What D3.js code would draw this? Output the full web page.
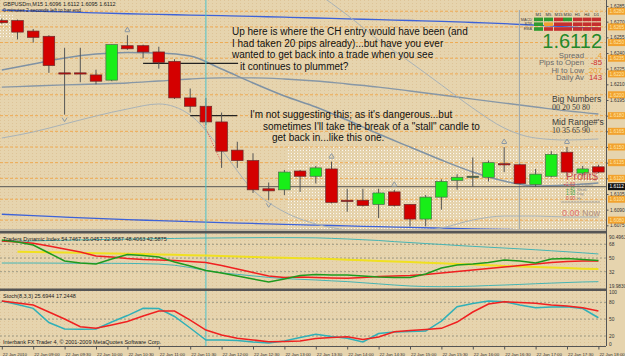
<!DOCTYPE html>
<html><head><meta charset="utf-8">
<script src="https://cdn.jsdelivr.net/npm/d3@7"></script>
<style>
body{margin:0;background:#e6d4ae;}
svg{display:block;font-family:Arial,"Liberation Sans",sans-serif;}
</style></head>
<body><svg id="c" width="625" height="356"></svg>
<script>
// ---------------- DATA ----------------
const timeLabels = ["22 Jan 2010","22 Jan 09:00","22 Jan 09:30","22 Jan 10:00","22 Jan 10:30","22 Jan 11:00","22 Jan 11:30","22 Jan 12:00","22 Jan 12:30","22 Jan 13:00","22 Jan 13:30","22 Jan 14:00","22 Jan 14:30","22 Jan 15:00","22 Jan 15:30","22 Jan 16:00","22 Jan 16:30","22 Jan 17:00","22 Jan 17:30","22 Jan 18:00"];
const labelBars = [0,2,4,6,8,10,12,14,16,18,20,22,24,26,28,30,32,34,36,38];

const open  = [1.6271,1.6271,1.6261,1.6256,1.6221,1.6221,1.6219,1.6214,1.6247,1.6247,1.6241,1.6232,1.6197,1.6189,1.6174,1.6147,1.6137,1.6110,1.6109,1.6127,1.6122,1.6129,1.6099,1.6099,1.6095,1.6107,1.6095,1.6081,1.6102,1.6118,1.6122,1.6121,1.6134,1.6133,1.6114,1.6122,1.6145,1.6125,1.6131];
const high  = [1.6273,1.6272,1.6263,1.6257,1.6245,1.6245,1.6224,1.6248,1.6257,1.6248,1.6246,1.6234,1.6206,1.6197,1.6183,1.6155,1.6144,1.6116,1.6128,1.6128,1.6132,1.6136,1.6110,1.6110,1.6110,1.6109,1.6095,1.6104,1.6119,1.6124,1.6140,1.6137,1.6150,1.6134,1.6129,1.6146,1.6150,1.6132,1.6133];
const low   = [1.6268,1.6253,1.6250,1.6221,1.6181,1.6212,1.6210,1.6213,1.6243,1.6235,1.6225,1.6196,1.6183,1.6171,1.6130,1.6130,1.6106,1.6099,1.6104,1.6107,1.6115,1.6096,1.6088,1.6093,1.6082,1.6093,1.6074,1.6074,1.6090,1.6109,1.6112,1.6117,1.6126,1.6114,1.6112,1.6121,1.6122,1.6122,1.6125];
const close = [1.6269,1.6260,1.6255,1.6228,1.6220,1.6220,1.6213,1.6248,1.6244,1.6241,1.6231,1.6197,1.6189,1.6174,1.6146,1.6137,1.6109,1.6108,1.6126,1.6122,1.6130,1.6097,1.6098,1.6094,1.6106,1.6094,1.6081,1.6102,1.6117,1.6121,1.6122,1.6135,1.6133,1.6115,1.6124,1.6143,1.6126,1.6129,1.6126];

// moving-average / band lines, one value per even bar (0,2,...,38)
const maBars   = [0,2,4,6,8,10,12,14,16,18,20,22,24,26,28,30,32,34,36,38];
const blueTop  = [1.62811,1.62802,1.62793,1.62784,1.62776,1.62770,1.62763,1.62757,1.62750,1.62743,1.62735,1.62727,1.62719,1.62711,1.62703,1.62692,1.62681,1.62666,1.62651,1.62637];
const blueLow  = [1.60856,1.60842,1.60829,1.60817,1.60805,1.60795,1.60785,1.60775,1.60768,1.60760,1.60752,1.60745,1.60737,1.60730,1.60723,1.60717,1.60712,1.60706,1.60702,1.60699];
const maMid    = [1.62237,1.62295,1.62352,1.62390,1.62405,1.62400,1.62371,1.62247,1.62113,1.61988,1.61883,1.61758,1.61624,1.61500,1.61375,1.61261,1.61174,1.61127,1.61136,1.61155];
const maSlow   = [1.62074,1.62084,1.62094,1.62103,1.62113,1.62132,1.62151,1.62161,1.62161,1.62151,1.62132,1.62103,1.62074,1.62036,1.61998,1.61959,1.61921,1.61883,1.61845,1.61816];
const bandUp   = [null,null,null,null,null,null,null,null,null,null,1.62984,1.62764,1.62524,1.62314,1.62094,1.61873,1.61682,1.61586,1.61567,1.61577];
const bandLow  = [1.61586,1.61644,1.61720,1.61797,1.61864,1.61912,1.61806,1.61471,1.61088,1.60878,1.60763,1.60706,1.60686,1.60686,1.60724,1.60801,1.60839,1.60839,1.60830,1.60830];

const levelPrices = [1.6280,1.6265,1.6250,1.6235,1.6220,1.6200,1.6180,1.6165,1.6150,1.6135,1.6120,1.6100,1.6080];
const axisPrices  = [1.6285,1.6270,1.6255,1.6240,1.6225,1.6210,1.6195,1.6180,1.6165,1.6150,1.6135,1.6120,1.6105,1.6090,1.6075];
const bidPrice = 1.6112;
const upFractals = [8,21,25,32,36];
const downFractals = [4,17];

// Traders Dynamic Index (per bar)
const tdiUp  = [71.5,72,72.5,73,73.4,73.8,74.2,74.5,74.8,75.1,75.4,75.7,76,76.2,76.4,76.6,76.7,76.8,76.8,76.7,76.5,75.8,75,74,73,71.5,70.3,69,67.8,66.5,65.3,64.2,63.1,62,60.8,59.5,58.2,56.8,55.3];
const tdiLow = [43.4,43.4,43.4,43.3,43.2,43.1,43,43,42.9,42.6,42,40.5,37.5,33.5,30.5,28.5,26.5,24.5,23,22,21.1,20,19,17.5,16,14.5,13.2,12.5,12.3,12.5,13,13.8,14.5,15.3,16.2,17,17.8,18.5,18.9];
const tdiMid = [null,58.3,58.0,57.6,57.2,56.8,56.4,56.0,55.6,55.2,54.7,54.2,53.7,53.2,52.6,52.0,51.4,50.8,50.3,49.8,49.4,48.6,47.8,47.0,46.2,45.4,44.6,43.8,43.0,42.2,41.3,40.4,39.5,38.8,38.1,37.4,36.7,36.0,35.5];
const tdiRsi = [73.7,71.0,67.1,56.6,46.1,43.4,42.1,48.7,54.6,53.3,51.3,44.7,39.5,33.6,30.3,26.3,22.4,18.4,22.4,27.0,28.3,27.7,27.7,26.3,25.0,24.4,24.4,29.0,36.9,40.8,42.1,44.1,47.4,46.1,43.4,48.7,49.3,48.0,46.7];
const tdiSig = [72.3,71.0,69.3,65.8,61.8,57.9,52.6,51.3,49.3,48.0,47.4,46.7,45.4,44.1,40.1,35.5,30.9,26.3,24.4,25.0,24.4,23.7,23.3,24.4,25.7,26.3,27.0,28.3,30.3,32.3,34.2,36.2,38.2,40.1,42.1,44.1,45.4,46.1,46.1];

// Stochastic (per bar)
const stochK = [82.3,76.0,69.3,44,32.4,31.9,32.4,44.9,56.4,69.3,68.9,54.7,34.2,12.8,12.8,11.9,9.3,7.5,11.0,17.3,23,19,15.8,9.3,24.4,27.1,28,28.8,46.6,72.1,77.8,82.3,81,75.1,70.3,71.6,72.1,68.9,52.5];
const stochD = [82.3,78.7,75.1,62.7,50.2,36.5,33.6,39.5,45.8,55.5,64.4,64.4,48.4,30.6,21.7,15.8,12.8,9.8,10.1,11,15.5,17.3,18.7,13.7,18.2,27.6,29.7,31.5,33.6,44.9,62.7,76.9,81,79.6,78.2,75.1,73.3,70.3,64.4];

const tfNames = ["M1","M5","M15","M30","H1","H4","D1"];
const rowNames = ["MACD","STR","EMA"];
const signalRows = [["g","g","r","g","r","r","r"],["g","o","r","r","r","r","r"],["g","r","r","r","r","r","r"]];

// ---------------- DRAW ----------------
const svg = d3.select("#c");
const X1 = 606;
const xB = d3.scaleLinear().domain([0,38]).range([1.8,598.4]);
const yP = d3.scaleLinear().domain([1.6285,1.6195]).range([6,100]);
const yT = d3.scaleLinear().domain([50,68]).range([258,244.3]);
const yS = d3.scaleLinear().domain([0,100]).range([347.2,291.1]);

const defs = svg.append("defs");
function clip(id,x,y,w,h){defs.append("clipPath").attr("id",id).append("rect").attr("x",x).attr("y",y).attr("width",w).attr("height",h);}
clip("cm",0,0,X1,229); clip("ct",0,234,X1,54.5); clip("cs",0,291,X1,55);
const pat = defs.append("pattern").attr("id","wd").attr("width",3).attr("height",3).attr("patternUnits","userSpaceOnUse");
pat.append("rect").attr("width",1).attr("height",1).attr("fill","#ffffff");
const pat2 = defs.append("pattern").attr("id","od").attr("width",4).attr("height",3).attr("patternUnits","userSpaceOnUse");
pat2.append("rect").attr("width",1).attr("height",1).attr("fill","#d9b98a");

svg.append("rect").attr("width",625).attr("height",356).attr("fill","#e6d4ae");
svg.append("rect").attr("width",X1).attr("height",346).attr("fill","url(#od)").attr("opacity",0.6);

const main = svg.append("g").attr("clip-path","url(#cm)");
main.append("rect").attr("x",288).attr("y",146).attr("width",X1-288).attr("height",84).attr("fill","url(#wd)").attr("opacity",0.85);
main.append("rect").attr("x",0).attr("y",13).attr("width",14).attr("height",24).attr("fill","url(#wd)").attr("opacity",0.85);

// level lines
main.selectAll(".lvl").data(levelPrices).join("line")
  .attr("x1",0).attr("x2",X1).attr("y1",d=>yP(d)).attr("y2",d=>yP(d))
  .attr("stroke","#f0a64a").attr("stroke-width",1).attr("stroke-dasharray","3,2").attr("opacity",0.9);

// lines
function lineP(arr,bars){return d3.line().defined(d=>d!=null).x((d,i)=>xB(bars[i])).y(d=>yP(d)).curve(d3.curveMonotoneX)(arr);}
main.append("path").attr("d",lineP(blueTop,maBars)).attr("fill","none").attr("stroke","#3d62d8").attr("stroke-width",1.3);
main.append("path").attr("d",lineP(blueLow,maBars)).attr("fill","none").attr("stroke","#3d62d8").attr("stroke-width",1.3);
main.append("path").attr("d",lineP(maSlow,maBars)).attr("fill","none").attr("stroke","#8797a6").attr("stroke-width",1.3);
main.append("path").attr("d",lineP(maMid,maBars)).attr("fill","none").attr("stroke","#7f92a4").attr("stroke-width",1.5);
main.append("path").attr("d",lineP(bandUp,maBars)).attr("fill","none").attr("stroke","#a9b3b8").attr("stroke-width",1);
main.append("path").attr("d",lineP(bandLow,maBars)).attr("fill","none").attr("stroke","#a9b3b8").attr("stroke-width",1);

// crosshair + vertical
svg.append("line").attr("x1",xB(13)).attr("x2",xB(13)).attr("y1",0).attr("y2",346).attr("stroke","#4cc3cc").attr("stroke-width",1);
main.append("line").attr("x1",xB(33)-0.5).attr("x2",xB(33)-0.5).attr("y1",10).attr("y2",229).attr("stroke","#9aa6ad").attr("stroke-width",1);

// bid line
main.append("line").attr("x1",0).attr("x2",X1).attr("y1",yP(bidPrice)).attr("y2",yP(bidPrice)).attr("stroke","#555").attr("stroke-width",1);

// user trend lines
main.append("line").attr("x1",xB(9)).attr("x2",xB(15.05)).attr("y1",yP(1.6230)).attr("y2",yP(1.6230)).attr("stroke","#222").attr("stroke-width",1.2);
main.append("line").attr("x1",xB(12)).attr("x2",xB(15)).attr("y1",yP(1.6180)).attr("y2",yP(1.6180)).attr("stroke","#222").attr("stroke-width",1.2);
main.append("line").attr("x1",xB(12.6)).attr("x2",xB(14)).attr("y1",yP(1.6180)).attr("y2",yP(1.6135)).attr("stroke","#e05050").attr("stroke-width",1).attr("stroke-dasharray","1,1.5");

// candles
const idx = d3.range(open.length);
const cg = main.append("g");
cg.selectAll(".wick").data(idx).join("line")
  .attr("x1",i=>xB(i)).attr("x2",i=>xB(i)).attr("y1",i=>yP(high[i])).attr("y2",i=>yP(low[i]))
  .attr("stroke","#555").attr("stroke-width",1);
cg.selectAll(".body").data(idx).join("rect")
  .attr("x",i=>xB(i)-5.8).attr("width",11.6)
  .attr("y",i=>Math.min(yP(open[i]),yP(close[i])))
  .attr("height",i=>Math.max(1.2,Math.abs(yP(open[i])-yP(close[i]))))
  .attr("fill",i=>close[i]>open[i]?"#18ee18":(close[i]<open[i]?"#d40000":"#333"))
  .attr("stroke",i=>close[i]>=open[i]?"#4c6a4c":"#6b2a2a").attr("stroke-width",0.7);

// fractals
const fr = main.append("g").attr("stroke","#8a98a6").attr("fill","none").attr("stroke-width",1);
upFractals.forEach(i=>{const x=xB(i),y=yP(high[i])-6;fr.append("path").attr("d",`M${x-2.5},${y+2} L${x},${y-2} L${x+2.5},${y+2} M${x-2.5},${y+2.5} H${x+2.5}`);});
downFractals.forEach(i=>{const x=xB(i),y=yP(low[i])+5;fr.append("path").attr("d",`M${x-2.5},${y-2} L${x},${y+2} L${x+2.5},${y-2}`);});

// annotations
const ann = svg.append("g").attr("font-size","10px").attr("fill","#111");
[["Up here is where the CH entry would have been (and",232,35],["I had taken 20 pips already)...but have you ever",232,46.5],["wanted to get back into a trade when you see",232,58],["it continues to plummet?",240,69.5],
 ["I'm not suggesting this; as it's dangerous...but",250,118],["sometimes I'll take the break of a \"stall\" candle to",263,129.5],["get back in...like this one.",272,141]]
 .forEach(t=>ann.append("text").attr("x",t[1]).attr("y",t[2]).text(t[0]));

// title
svg.append("text").attr("x",3).attr("y",6).attr("font-size","5.5px").attr("fill","#222").text("GBPUSDm,M15  1.6096 1.6112 1.6095 1.6112");
svg.append("text").attr("x",3).attr("y",11.5).attr("font-size","5px").attr("fill","#223").text("0 minutes 2 seconds left to bar end");

// info panel
const cx = [538.5,548.5,558.5,567.5,577.5,587,596.5];
const colr = {g:"#2f9a2f",r:"#c52e2e",o:"#f0a030"};
tfNames.forEach((t,j)=>svg.append("text").attr("x",cx[j]).attr("y",15.5).attr("text-anchor","middle").attr("font-size","4.2px").attr("fill","#333").text(t));
signalRows.forEach((row,r)=>{
  svg.append("text").attr("x",532).attr("y",20.6+r*4.8).attr("text-anchor","end").attr("font-size","3.8px").attr("fill","#444").text(rowNames[r]);
  row.forEach((c,j)=>svg.append("rect").attr("x",cx[j]-4.5).attr("y",17.6+r*4.8).attr("width",9).attr("height",3.6).attr("fill",colr[c]));
});
svg.append("text").attr("x",602).attr("y",47.5).attr("text-anchor","end").attr("font-size","20px").attr("fill","#23892a").text("1.6112");
const info=[["Spread","4","#f0a030",57.5],["Pips to Open","-85","#d03030",65],["Hi to Low","207","#f0a030",72.5],["Daily Av","143","#d03030",80]];
info.forEach(d=>{
  svg.append("text").attr("x",584).attr("y",d[3]).attr("text-anchor","end").attr("font-size","7.8px").attr("fill","#6a6a6a").text(d[0]);
  svg.append("text").attr("x",602).attr("y",d[3]).attr("text-anchor","end").attr("font-size","7.8px").attr("fill",d[2]).text(d[1]);
});
svg.append("text").attr("x",552).attr("y",102).attr("font-size","8.5px").attr("fill","#3a3a3a").text("Big Numbers");
svg.append("text").attr("x",552).attr("y",110).attr("font-size","8px").attr("font-family","'Liberation Serif',serif").attr("fill","#3a3a3a").text("00 20 50 80");
svg.append("text").attr("x",552).attr("y",124.5).attr("font-size","8.5px").attr("fill","#3a3a3a").text("Mid Range#'s");
svg.append("text").attr("x",552).attr("y",132.5).attr("font-size","8px").attr("font-family","'Liberation Serif',serif").attr("fill","#3a3a3a").text("10 35 65 90");

svg.append("text").attr("x",566).attr("y",180).attr("font-size","11px").attr("fill","#c65050").text("Profit$");
[["+1.63","#d04040","at 1.6095",186],["+.41","#3c9c3c","Week",190.7],["1.93","#3c9c3c","Day",195.3],["0.00","#d04040","Hr",200]].forEach(d=>{
  svg.append("text").attr("x",575).attr("y",d[3]).attr("text-anchor","end").attr("font-size","4.6px").attr("fill",d[1]).text(d[0]);
  svg.append("text").attr("x",577).attr("y",d[3]).attr("font-size","3.8px").attr("fill","#8a8a8a").text(d[2]);
});
svg.append("line").attr("x1",561).attr("x2",600).attr("y1",202).attr("y2",202).attr("stroke","#8a8a8a").attr("stroke-width",0.7);
svg.append("text").attr("x",562).attr("y",216).attr("font-size","9px").attr("fill","#e07070").text("0.00");
svg.append("text").attr("x",582).attr("y",216).attr("font-size","9px").attr("fill","#b09080").text("Now");

// right price axis
svg.append("line").attr("x1",X1+0.5).attr("x2",X1+0.5).attr("y1",0).attr("y2",346).attr("stroke","#555");
const ax = svg.append("g").attr("transform",`translate(${X1+0.5},0)`).call(d3.axisRight(yP).tickValues(axisPrices).tickFormat(d3.format(".4f")).tickSize(2).tickSizeOuter(0));
ax.select(".domain").remove();
ax.selectAll("text").attr("font-size","4.8px").attr("fill","#333").attr("x",3.5);
ax.selectAll("line").attr("stroke","#555");
const lg = svg.append("g");
levelPrices.forEach(p=>{
  lg.append("rect").attr("x",X1+2).attr("y",yP(p)-3.5).attr("width",17).attr("height",7).attr("fill","#f2a22e");
  lg.append("text").attr("x",X1+3.5).attr("y",yP(p)+1.8).attr("font-size","4.8px").attr("fill","#ffe6a8").text(p.toFixed(4));
});
lg.append("rect").attr("x",X1+2).attr("y",yP(bidPrice)-3.5).attr("width",17).attr("height",7).attr("fill","#111");
lg.append("text").attr("x",X1+3.5).attr("y",yP(bidPrice)+1.8).attr("font-size","4.8px").attr("fill","#fff").text(bidPrice.toFixed(4));

// panel separators
svg.append("rect").attr("x",0).attr("y",229.5).attr("width",X1).attr("height",1).attr("fill","#9a9a9a");
svg.append("rect").attr("x",0).attr("y",231).attr("width",X1).attr("height",2.5).attr("fill","#555");
svg.append("rect").attr("x",0).attr("y",288.5).attr("width",X1).attr("height",2.5).attr("fill","#555");
svg.append("line").attr("x1",0).attr("x2",X1).attr("y1",346.5).attr("y2",346.5).attr("stroke","#555");

// TDI panel
const tg = svg.append("g").attr("clip-path","url(#ct)");
[68,50,32].forEach(v=>tg.append("line").attr("x1",0).attr("x2",X1).attr("y1",yT(v)).attr("y2",yT(v)).attr("stroke","#8a8a7a").attr("stroke-dasharray","2,2").attr("stroke-width",0.8));
function lineT(arr){return d3.line().defined(d=>d!=null).x((d,i)=>xB(i)).y(d=>yT(d))(arr);}
tg.append("path").attr("d",lineT(tdiUp)).attr("fill","none").attr("stroke","#46b4b4").attr("stroke-width",1);
tg.append("path").attr("d",lineT(tdiLow)).attr("fill","none").attr("stroke","#46b4b4").attr("stroke-width",1);
tg.append("path").attr("d",lineT(tdiMid)).attr("fill","none").attr("stroke","#f0e020").attr("stroke-width",2);
tg.append("path").attr("d",lineT(tdiSig)).attr("fill","none").attr("stroke","#f02020").attr("stroke-width",1.5);
tg.append("path").attr("d",lineT(tdiRsi)).attr("fill","none").attr("stroke","#1e9a1e").attr("stroke-width",1.5);
svg.append("text").attr("x",3).attr("y",240.5).attr("font-size","5.5px").attr("fill","#222").text("Traders Dynamic Index 54.7467 35.0457 22.9587 48.4063 42.5875");
[["90.4963",238.5],["68",yT(68)+1.8],["50",yT(50)+1.8],["32",yT(32)+1.8],["19.9830",287.5]].forEach(d=>svg.append("text").attr("x",X1+3).attr("y",d[1]).attr("font-size","4.8px").attr("fill","#333").text(d[0]));

// Stoch panel
const sg = svg.append("g").attr("clip-path","url(#cs)");
[80,50,20].forEach(v=>sg.append("line").attr("x1",0).attr("x2",X1).attr("y1",yS(v)).attr("y2",yS(v)).attr("stroke","#8a8a7a").attr("stroke-dasharray","2,2").attr("stroke-width",0.8));
function lineS(arr){return d3.line().x((d,i)=>xB(i)).y(d=>yS(d))(arr);}
sg.append("path").attr("d",lineS(stochK)).attr("fill","none").attr("stroke","#30b0b8").attr("stroke-width",1.5);
sg.append("path").attr("d",lineS(stochD)).attr("fill","none").attr("stroke","#f02020").attr("stroke-width",1.5);
svg.append("text").attr("x",3).attr("y",297.5).attr("font-size","5.5px").attr("fill","#222").text("Stoch(8,3,3) 25.6944 17.2448");
svg.append("text").attr("x",3).attr("y",344).attr("font-size","5.5px").attr("fill","#222").text("Interbank FX Trader 4, © 2001-2009 MetaQuotes Software Corp.");
[["100",yS(100)+2.5],["80",yS(80)+1.8],["50",yS(50)+1.8],["20",yS(20)+1.8],["0",yS(0)-1.5]].forEach(d=>svg.append("text").attr("x",X1+3).attr("y",d[1]).attr("font-size","4.8px").attr("fill","#333").text(d[0]));

// time axis
const tAx = svg.append("g").attr("transform","translate(0,346.5)")
  .call(d3.axisBottom(xB).tickValues(labelBars).tickFormat((d,i)=>timeLabels[i]).tickSize(3).tickSizeOuter(0));
tAx.select(".domain").remove();
tAx.selectAll("line").attr("stroke","#555");
tAx.selectAll("text").attr("font-size","4.4px").attr("fill","#333").attr("text-anchor","start").attr("x",0.5).attr("dy","0.9em");
</script></body></html>
